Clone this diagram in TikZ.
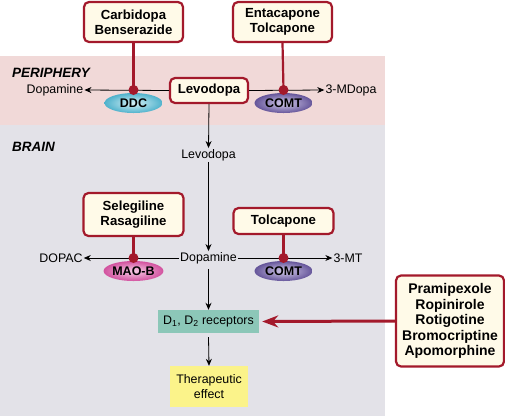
\documentclass[tikz,border=0pt]{standalone}
\usepackage{fontspec}
\setmainfont{Liberation Sans}
\usetikzlibrary{arrows.meta,shapes.geometric}
\definecolor{boxred}{HTML}{A3192B}
\definecolor{cream}{HTML}{FFFAE8}
\definecolor{peri}{HTML}{F1D9D8}
\definecolor{brain}{HTML}{E3E2E8}
\definecolor{ddcE}{HTML}{4FB2CC}
\definecolor{ddcC}{HTML}{D6F0F6}
\definecolor{comtE}{HTML}{65559A}
\definecolor{comtC}{HTML}{D4CCEA}
\definecolor{maoE}{HTML}{D2529F}
\definecolor{maoC}{HTML}{F7CDE6}
\definecolor{recep}{HTML}{8CC7B8}
\definecolor{thera}{HTML}{FBF38A}
\tikzset{
  x=1pt, y=-1pt,
  drug/.style={draw=boxred, line width=2.2pt, rounded corners=5pt, fill=cream,
    font=\fontsize{13.2}{15}\selectfont\bfseries, align=center, inner sep=0pt},
  lbl/.style={font=\fontsize{12.4}{13}\selectfont, inner sep=1pt},
  region/.style={font=\fontsize{13.5}{14}\selectfont\bfseries\itshape, anchor=west, inner sep=0pt},
  enz/.style={ellipse, minimum width=58pt, minimum height=20pt, inner sep=0pt,
    font=\fontsize{12.5}{13}\selectfont\bfseries},
  ddc/.style={enz, inner color=ddcC, outer color=ddcE},
  comt/.style={enz, inner color=comtC, outer color=comtE},
  mao/.style={enz, inner color=maoC, outer color=maoE},
  arr/.style={-{Stealth[length=7pt,width=6pt]}, line width=0.8pt},
  inhib/.style={draw=boxred, line width=2.2pt},
  dot/.style={circle, fill=boxred, minimum size=10pt, inner sep=0pt},
}
\begin{document}
\begin{tikzpicture}
\useasboundingbox (0,0) rectangle (505,416);
\fill[white] (0,0) rectangle (505,416);
% regions
\fill[peri] (0,56) rectangle (385,125);
\fill[brain] (0,125) rectangle (385,416);
\node[region] (periphery) at (12,73) {PERIPHERY};
\node[region] (brainlbl) at (12,147) {BRAIN};

% periphery
\node[drug, minimum width=99pt, minimum height=40pt] (carbi) at (133.5,22) {Carbidopa\\Benserazide};
\node[drug, minimum width=99pt, minimum height=40pt] (enta) at (282.5,22) {Entacapone\\Tolcapone};
\node[drug, minimum width=78pt, minimum height=25pt] (levo) at (209,90.5) {Levodopa};
\node[lbl] (dopaP) at (55,90) {Dopamine};
\node[lbl] (mdopa) at (351,90) {3-MDopa};
\node[ddc] (ddc) at (133.5,103) {DDC};
\node[comt] (comtP) at (283.5,103) {COMT};
\draw[arr] (levo.west) -- (dopaP.east);
\draw[arr] (levo.east) -- (mdopa.west);
\node[dot] (dot1) at (133.5,90) {};
\node[dot] (dot2) at (283.5,90) {};
\draw[inhib] (carbi.south) -- (dot1.center);
\draw[inhib] (enta.south) -- (dot2.center);

% brain
\node[lbl] (levoB) at (208.5,155) {Levodopa};
\node[lbl] (dopaB) at (208.5,258) {Dopamine};
\node[lbl] (dopac) at (61,258) {DOPAC};
\node[lbl] (mt) at (348,258) {3-MT};
\draw[arr] (levo.south) -- (levoB.north);
\draw[arr] (levoB.south) -- (dopaB.north);
\node[drug, minimum width=100pt, minimum height=43pt] (sele) at (133.5,214.5) {Selegiline\\Rasagiline};
\node[drug, minimum width=100pt, minimum height=26pt] (tolc) at (283.5,221) {Tolcapone};
\node[mao] (mao) at (133.5,271) {MAO-B};
\node[comt] (comtB) at (283.5,271) {COMT};
\draw[arr] (dopaB.west) -- (dopac.east);
\draw[arr] (dopaB.east) -- (mt.west);
\node[dot] (dot3) at (133.5,258) {};
\node[dot] (dot4) at (283.5,258) {};
\draw[inhib] (sele.south) -- (dot3.center);
\draw[inhib] (tolc.south) -- (dot4.center);

\node[fill=recep, minimum width=101pt, minimum height=23pt, inner sep=0pt, font=\fontsize{12.4}{13}\selectfont] (rec) at (208.5,321.5) {D\textsubscript{1}, D\textsubscript{2} receptors};
\node[fill=thera, minimum width=78pt, minimum height=41pt, inner sep=0pt, align=center, font=\fontsize{12.4}{14.5}\selectfont] (ther) at (209,386.5) {Therapeutic\\effect};
\draw[arr] (dopaB.south) ++(0,4) -- (rec.north);
\draw[arr] (rec.south) ++(0,4) -- (ther.north);

\node[drug, minimum width=108pt, minimum height=91pt, font=\fontsize{14}{15.5}\selectfont\bfseries] (agon) at (450,321) {Pramipexole\\Ropinirole\\Rotigotine\\Bromocriptine\\Apomorphine};
\draw[boxred, line width=3pt, -{Stealth[length=16pt,width=12pt]}] (agon.west) -- ([xshift=3pt]rec.east);
\end{tikzpicture}
\end{document}
